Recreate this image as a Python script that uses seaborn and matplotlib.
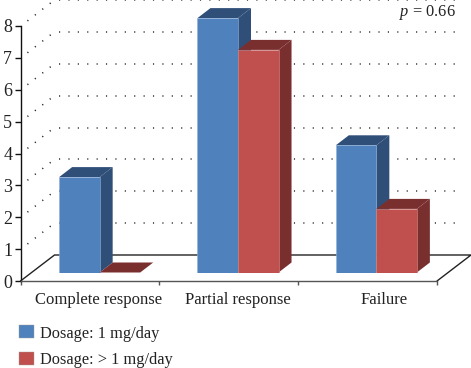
import matplotlib
matplotlib.use("Agg")
import matplotlib.pyplot as plt
from matplotlib.patches import Polygon, Patch
import pandas as pd
import seaborn as sns

# values
categories = ["Complete response", "Partial response", "Failure"]
dosage_low = [3, 8, 4]
dosage_high = [0, 7, 2]
series_names = ["Dosage: 1 mg/day", "Dosage: > 1 mg/day"]
y_ticks = [0, 1, 2, 3, 4, 5, 6, 7, 8]

# front / top+side colours of the 3D bars
front_colors = ["#4f81bd", "#c0504d"]
dark_colors = ["#2f4f79", "#7a2f2f"]

FIG_W, FIG_H = 471, 368

sns.set_theme(style="white")
plt.rcParams["font.family"] = ["Liberation Serif", "DejaVu Serif"]
plt.rcParams["mathtext.fontset"] = "custom"
plt.rcParams["mathtext.it"] = "Liberation Serif:italic"
plt.rcParams["mathtext.rm"] = "Liberation Serif"

table = pd.DataFrame({
    "category": categories * 2,
    "value": dosage_low + dosage_high,
    "series": [series_names[0]] * 3 + [series_names[1]] * 3,
})


def px_axes(fig, left, right, top, bottom):
    # axes box given in picture pixels
    return fig.add_axes([left / FIG_W, 1 - bottom / FIG_H,
                         (right - left) / FIG_W, (bottom - top) / FIG_H])


fig = plt.figure(figsize=(FIG_W / 100, FIG_H / 100), dpi=100)

# Main axes: the front edge of the floor and the value axis
ax = px_axes(fig, 20.5, 437, 26, 281)
ax.set_xlim(0, 3)
ax.set_ylim(0, 8)
ax.patch.set_alpha(0)
depth_x = 34 / (416.5 / 3)
depth_y = 26 / (255 / 8)

# dotted walls
for v in y_ticks[1:]:
    ax.plot([0.05, depth_x], [v + 0.16, v + depth_y], color="#222222", lw=1.1,
            ls=(0, (0.75, 5.4)), clip_on=False, zorder=1)
    ax.plot([depth_x + 0.03, 3 + depth_x - 0.06], [v + depth_y, v + depth_y], color="#333333",
            lw=1.1, ls=(0, (0.75, 5.4)), clip_on=False, zorder=1)

# floor outline
ax.plot([0, depth_x, 3 + depth_x, 3], [0, depth_y, depth_y, 0], color="#222222", lw=1.0,
        clip_on=False, zorder=1)

sns.despine(ax=ax, top=True, right=True)
ax.spines["left"].set_color("#111111")
ax.spines["bottom"].set_color("#555555")
ax.spines["left"].set_linewidth(1.0)
ax.spines["bottom"].set_linewidth(1.0)
ax.set_yticks(y_ticks)
ax.set_xticks([0, 1, 2, 3])
ax.set_xticklabels([])
ax.tick_params(axis="y", direction="out", length=4.5, width=1.0, color="#111111", pad=1.5,
               labelsize=13, labelcolor="#222222", left=True)
ax.tick_params(axis="x", direction="out", length=3, width=1.0, color="#555555", bottom=True)

# category labels sit a little off the centre of their cells
ax.set_xticks([0.56, 1.565, 2.62], labels=categories, minor=True)
ax.tick_params(axis="x", which="minor", length=0, pad=8, labelsize=12, labelcolor="#222222")

# Bar axes: sits on the floor, between the front edge and the back wall
bar_ax = px_axes(fig, 30.5, 445.5, 272.5 - 8.5 * 31.8, 272.5)
sns.barplot(data=table, x="category", y="value", hue="series", order=categories,
            hue_order=series_names, palette=front_colors, width=0.586, gap=0,
            saturation=1, dodge=True, legend=False, ax=bar_ax, zorder=5)
bar_ax.set_xlim(-0.5, 2.5)
bar_ax.set_ylim(0, 8.5)
bar_ax.axis("off")

side_x = 13 / 138.3
side_y = 10 / 31.8

for series_index, container in enumerate(bar_ax.containers):
    for bar in container:
        x0 = bar.get_x()
        x1 = x0 + bar.get_width()
        h = bar.get_height()
        dark = dark_colors[series_index]
        z = 3 + series_index
        bar.set_edgecolor("#8fb0d8" if series_index == 0 else "#d58a88")
        bar.set_linewidth(0.4)
        bar.set_zorder(z + 0.5)
        # top face
        bar_ax.add_patch(Polygon([(x0, h), (x1, h), (x1 + side_x, h + side_y), (x0 + side_x, h + side_y)],
                                 closed=True, facecolor=dark, edgecolor="none", zorder=z))
        # side face
        bar_ax.add_patch(Polygon([(x1, 0), (x1 + side_x, side_y), (x1 + side_x, h + side_y), (x1, h)],
                                 closed=True, facecolor=dark, edgecolor="none", zorder=z))

fig.text(399 / FIG_W, 1 - 13 / FIG_H, r"$\mathit{p}$ = 0.66", fontsize=11.8, color="#222222",
         ha="left", va="center")

handles = [Patch(facecolor=c, edgecolor="#a0a0a0", linewidth=0.3) for c in front_colors]
fig.legend(handles, series_names, loc="lower left", bbox_to_anchor=(19 / FIG_W, 0), frameon=False,
           fontsize=11.8, handlelength=0.9, handleheight=0.85, handletextpad=0.36, labelspacing=0.62,
           borderpad=0, borderaxespad=0, labelcolor="#222222")

fig.savefig("out.png", dpi=100)
